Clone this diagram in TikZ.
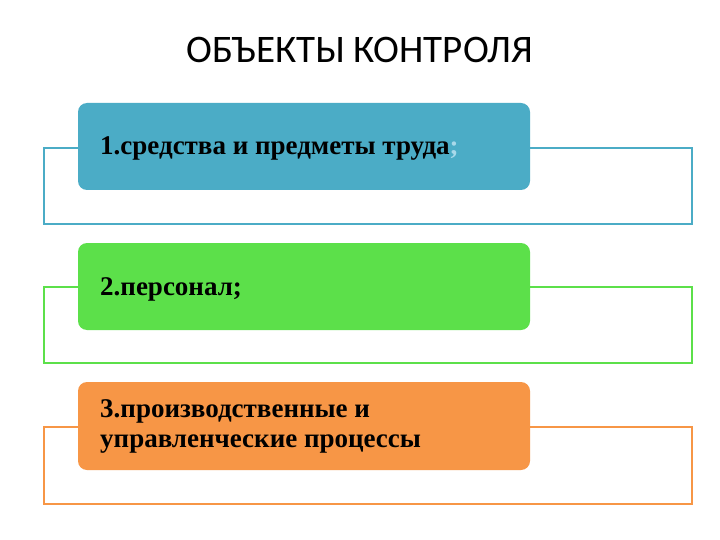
\documentclass[tikz,border=0pt]{standalone}
\usepackage{fontspec}
\setmainfont{Liberation Serif}
\newfontfamily\titlefont{Carlito}
\definecolor{cblue}{HTML}{4BACC6}
\definecolor{cgreen}{HTML}{5CE04A}
\definecolor{corange}{HTML}{F79646}
\definecolor{lblue}{HTML}{A9D9EA}
\begin{document}
\begin{tikzpicture}[x=1pt,y=-1pt,
  frame/.style={draw=#1,line width=1.2pt},
  card/.style={fill=#1,rounded corners=9pt},
  lbl/.style={anchor=west,inner sep=0pt,font=\bfseries\fontsize{27}{30}\selectfont,align=left,text=black}]
\useasboundingbox[fill=white] (0,0) rectangle (720,540);
\node[font=\titlefont\fontsize{39}{44}\selectfont] (title) at (360,50) {ОБЪЕКТЫ КОНТРОЛЯ};
\draw[frame=cblue] (44,148) rectangle (692,224);
\fill[card=cblue] (78,103) rectangle (530,190);
\node[lbl] (t1) at (100,149) {1.средства и предметы труда\textcolor{lblue}{;}};
\draw[frame=cgreen] (44,287) rectangle (692,363);
\fill[card=cgreen] (78,243) rectangle (530,330);
\node[lbl] (t2) at (100,289) {2.персонал;};
\draw[frame=corange] (44,427) rectangle (692,504);
\fill[card=corange] (78,382) rectangle (530,470);
\node[lbl] (t3) at (100,426) {3.производственные и\\управленческие процессы};
\end{tikzpicture}
\end{document}
